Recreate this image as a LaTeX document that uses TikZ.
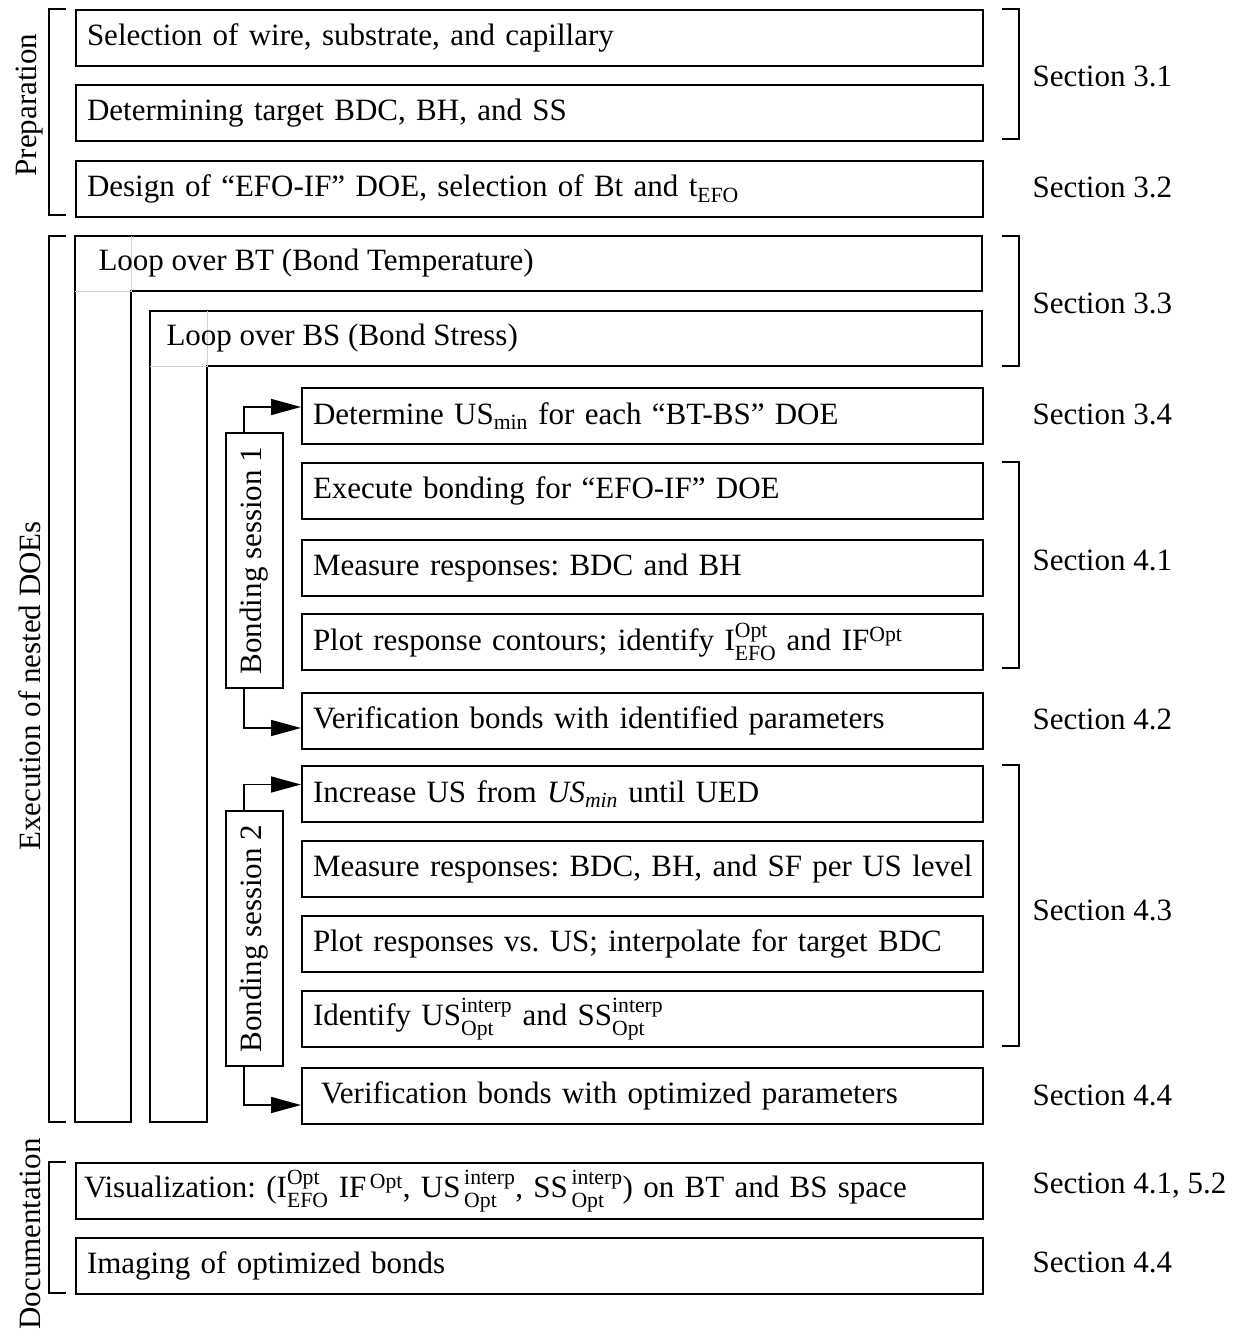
\documentclass[tikz,border=0pt]{standalone}
\usepackage{amsmath}
\usepackage{fontspec}
\setmainfont{Liberation Serif}
\usetikzlibrary{arrows.meta}
\newcommand{\supsub}[2]{\ensuremath{^{\text{#1}}_{\text{#2}}}}

\begin{document}
\begin{tikzpicture}[x=1pt, y=-1pt,
    font=\fontsize{31pt}{37pt}\selectfont\frenchspacing,
    stepbox/.style={draw, line width=2pt, anchor=north west, align=left,
      inner xsep=11pt, inner ysep=0pt, minimum height=56pt},
    widebox/.style={stepbox, text width=885pt},
    innerbox/.style={stepbox, text width=659pt},
    secnote/.style={anchor=west},
    phase/.style={rotate=90},
    sessionbox/.style={draw, line width=2pt, rotate=90, minimum width=255pt,
      minimum height=57pt, inner sep=0pt},
    bracket/.style={line width=2.5pt},
    secbracket/.style={line width=1.5pt},
    feed/.style={line width=1.5pt, -{Triangle[length=30pt,width=16pt]}}]
  \useasboundingbox (0,0) rectangle (1239,1332);

  % preparation
  \node[widebox] (wire) at (75,9) {Selection of wire, substrate, and capillary};
  \node[widebox] (target) at (75,84) {Determining target BDC, BH, and SS};
  \node[widebox] (efodoe) at (75,160) {Design of “EFO-IF” DOE, selection of Bt and t\textsubscript{EFO}};

  % nested loops
  \draw[line width=2pt] (75,236) -- (982,236) -- (982,291) -- (131,291) -- (131,1122) -- (75,1122) -- cycle;
  \draw[gray!35, line width=1pt] (131,236) -- (131,291) -- (75,291);
  \node[anchor=west] (btloop) at (95,263) {Loop over BT (Bond Temperature)};
  \draw[line width=2pt] (150,311) -- (982,311) -- (982,366) -- (207,366) -- (207,1122) -- (150,1122) -- cycle;
  \draw[gray!35, line width=1pt] (207,311) -- (207,366) -- (150,366);
  \node[anchor=west] (bsloop) at (163,338) {Loop over BS (Bond Stress)};

  % bonding session 1
  \node[innerbox] (usmin) at (301,387) {Determine US$_{\text{min}}$ for each “BT-BS” DOE};
  \node[innerbox] (execb) at (301,462) {Execute bonding for “EFO-IF” DOE};
  \node[innerbox] (meas1) at (301,539) {Measure responses: BDC and BH};
  \node[innerbox] (contour) at (301,613) {Plot response contours; identify I\supsub{Opt}{EFO} and IF$^{\text{Opt}}$};
  \node[innerbox] (verif1) at (301,692) {Verification bonds with identified parameters};
  \node[sessionbox] (bs1) at (254.5,560.5) {Bonding session 1};
  \draw[feed] ([xshift=-10.5pt]bs1.east) |- ([yshift=9pt]usmin.west);
  \draw[feed] ([xshift=-10.5pt]bs1.west) |- ([yshift=-7pt]verif1.west);

  % bonding session 2
  \node[innerbox] (incr) at (301,765) {Increase US from \textit{US}$_{\text{\textit{min}}}$ until UED};
  \node[innerbox] (meas2) at (301,840) {\mbox{Measure responses: BDC, BH, and SF per US level}};
  \node[innerbox] (interp) at (301,915) {Plot responses vs. US; interpolate for target BDC};
  \node[innerbox] (ident) at (301,990) {Identify US\supsub{interp}{Opt} and SS\supsub{interp}{Opt}};
  \node[innerbox, inner xsep=19pt, text width=643pt] (verif2) at (301,1067) {Verification bonds with optimized parameters};
  \node[sessionbox] (bs2) at (254.5,938.5) {Bonding session 2};
  \draw[feed] ([xshift=-10.5pt]bs2.east) |- ([yshift=9.5pt]incr.west);
  \draw[feed] ([xshift=-10.5pt]bs2.west) |- ([yshift=-9pt]verif2.west);

  % documentation
  \node[widebox, inner xsep=8pt, text width=891pt] (visual) at (75,1162) {\mbox{Visualization: (I\supsub{Opt}{EFO}\ IF$^{\,\text{Opt}}$, US\supsub{\,interp}{\,Opt}, SS\supsub{\,interp}{\,Opt}) on BT and BS space}};
  \node[widebox] (imaging) at (75,1237) {Imaging of optimized bonds};

  % phases
  \draw[bracket] (66,9) -| (49,215) -- (66,215);
  \draw[bracket] (66,236) -| (49,1122) -- (66,1122);
  \draw[bracket] (66,1162) -| (49,1293) -- (66,1293);
  \node[phase] (prep) at (30,105) {Preparation};
  \node[phase] (execp) at (30,686) {Execution of nested DOEs};
  \node[phase] (docu) at (30,1234) {Documentation};

  % sections
  \draw[secbracket] (1002,9) -| (1019,139) -- (1002,139);
  \draw[secbracket] (1002,236) -| (1019,366) -- (1002,366);
  \draw[secbracket] (1002,462) -| (1019,668) -- (1002,668);
  \draw[secbracket] (1002,765) -| (1019,1046) -- (1002,1046);
  \node[secnote] (s31) at (1029,76) {Section 3.1};
  \node[secnote] (s32) at (1029,187) {Section 3.2};
  \node[secnote] (s33) at (1029,303) {Section 3.3};
  \node[secnote] (s34) at (1029,414) {Section 3.4};
  \node[secnote] (s41) at (1029,560) {Section 4.1};
  \node[secnote] (s42) at (1029,719) {Section 4.2};
  \node[secnote] (s43) at (1029,910) {Section 4.3};
  \node[secnote] (s44) at (1029,1095) {Section 4.4};
  \node[secnote] (s52) at (1029,1186) {Section 4.1, 5.2};
  \node[secnote] (s44b) at (1029,1262) {Section 4.4};
\end{tikzpicture}
\end{document}
